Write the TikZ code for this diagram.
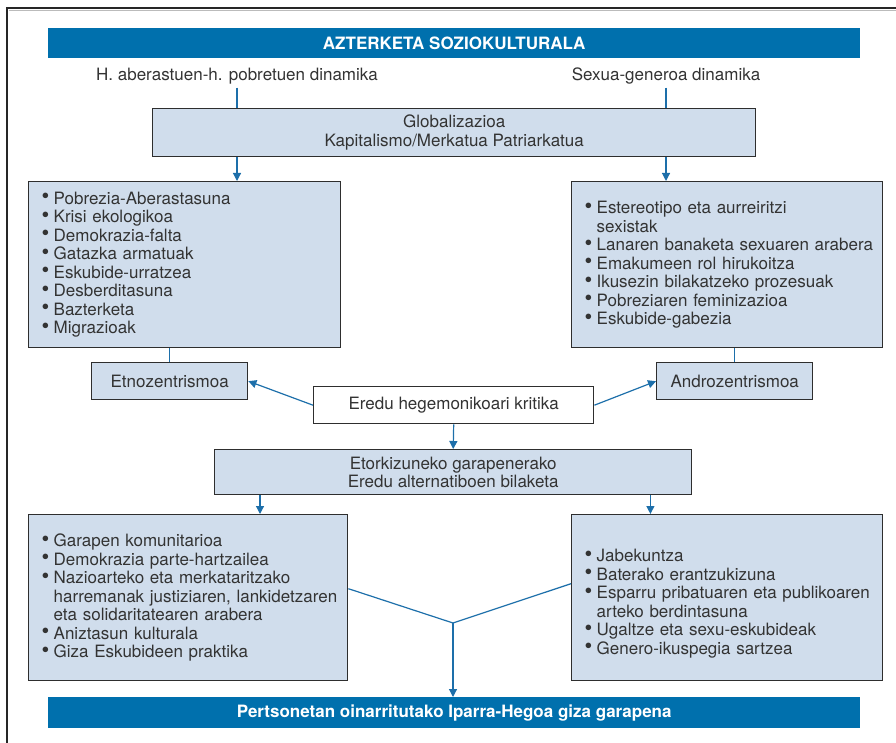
\documentclass[tikz,border=0pt]{standalone}
\usepackage{fontspec}
\setmainfont{TeX Gyre Heros}
\usetikzlibrary{arrows.meta}

\definecolor{bannerblue}{HTML}{0070AD}
\definecolor{boxfill}{HTML}{D0DDEC}
\definecolor{edge}{HTML}{2E2E2E}
\definecolor{linkblue}{HTML}{1D6FAA}
\definecolor{ink}{HTML}{333333}
\definecolor{framegray}{HTML}{BBBBBB}

% bullet line and continuation line of a list
\newcommand{\itm}[1]{\makebox[12pt][l]{\raisebox{0.05ex}{\scalebox{1.3}{\textbullet}}}\mbox{#1}}
\newcommand{\cnt}[1]{\hspace*{12pt}\mbox{#1}}

\begin{document}
\begin{tikzpicture}[x=1pt,y=-1pt,
  every node/.style={font=\fontsize{17}{18.5}\selectfont, text=ink},
  banner/.style={fill=bannerblue, text=white,
    font=\bfseries\fontsize{17}{18.5}\selectfont,
    minimum width=812pt, minimum height=30pt, inner sep=0pt, anchor=north west},
  hbox/.style={draw=edge, line width=1.4pt, fill=boxfill, align=center,
    inner sep=0pt, anchor=north west},
  listbox/.style={draw=edge, line width=1.4pt, fill=boxfill, align=left,
    inner xsep=13pt, inner ysep=0pt, anchor=north west, minimum height=166pt},
  link/.style={draw=linkblue, line width=1.2pt},
  arr/.style={link, -{Triangle[length=8pt,width=8pt]}},
]
\useasboundingbox (0,0) rectangle (896,743);

% outer frame
\draw[framegray, line width=1pt] (9,10.5) -- (896,10.5);
\draw[black!85, line width=1.8pt] (7,743) -- (7,8) -- (896,8);

% banners
\node[banner] (title) at (48,28) {AZTERKETA SOZIOKULTURALA};
\node[banner, minimum height=31pt] (goal) at (48,697)
  {Pertsonetan oinarritutako Iparra-Hegoa giza garapena};

% two dynamics
\node (rich) at (237,76) {H. aberastuen-h. pobretuen dinamika};
\node (sex) at (666,76) {Sexua-generoa dinamika};

\node[hbox, minimum width=603pt, minimum height=48pt] (glob) at (152,108)
  {Globalizazioa\\Kapitalismo/Merkatua Patriarkatua};

% problem lists
\node[listbox, text width=286pt] (ltop) at (28,181)
  {\itm{Pobrezia-Aberastasuna}\\
   \itm{Krisi ekologikoa}\\
   \itm{Demokrazia-falta}\\
   \itm{Gatazka armatuak}\\
   \itm{Eskubide-urratzea}\\
   \itm{Desberditasuna}\\
   \itm{Bazterketa}\\
   \itm{Migrazioak}};
\node[listbox, text width=285pt] (rtop) at (571,181)
  {\itm{Estereotipo eta aurreiritzi}\\
   \cnt{sexistak}\\
   \itm{Lanaren banaketa sexuaren arabera}\\
   \itm{Emakumeen rol hirukoitza}\\
   \itm{Ikusezin bilakatzeko prozesuak}\\
   \itm{Pobreziaren feminizazioa}\\
   \itm{Eskubide-gabezia}};

\node[hbox, minimum width=156pt, minimum height=37pt] (etno) at (91,362) {Etnozentrismoa};
\node[hbox, minimum width=156pt, minimum height=37pt] (andro) at (656,362) {Androzentrismoa};
\node[hbox, fill=white, minimum width=280pt, minimum height=37pt] (crit) at (313,386)
  {Eredu hegemonikoari kritika};

\node[hbox, minimum width=477pt, minimum height=45pt] (etor) at (214,449)
  {Etorkizuneko garapenerako\\Eredu alternatiboen bilaketa};

% alternative lists
\node[listbox, text width=293pt] (lbot) at (28,514)
  {\itm{Garapen komunitarioa}\\
   \itm{Demokrazia parte-hartzailea}\\
   \itm{Nazioarteko eta merkataritzako}\\
   \cnt{harremanak justiziaren, lankidetzaren}\\
   \cnt{eta solidaritatearen arabera}\\
   \itm{Aniztasun kulturala}\\
   \itm{Giza Eskubideen praktika}};
\node[listbox, text width=285pt] (rbot) at (571,514)
  {\rule{0pt}{24pt}\itm{Jabekuntza}\\
   \itm{Baterako erantzukizuna}\\
   \itm{Esparru pribatuaren eta publikoaren}\\
   \cnt{arteko berdintasuna}\\
   \itm{Ugaltze eta sexu-eskubideak}\\
   \itm{Genero-ikuspegia sartzea}};

\coordinate (join) at (453,623);
\path (etor.south west) ++(46,0) coordinate (etorL);
\path (etor.south east) ++(-42,0) coordinate (etorR);

% connectors
\draw[link] (rich.south) -- (rich.south |- glob.north);
\draw[link] (sex.south) -- (sex.south |- glob.north);
\draw[arr] (rich.south |- glob.south) -- (rich.south |- ltop.north);
\draw[arr] (sex.south |- glob.south) -- (sex.south |- rtop.north);
\draw[link] (etno.north |- ltop.south) -- (etno.north);
\draw[link] (andro.north |- rtop.south) -- (andro.north);
\draw[arr] (crit.west) -- (etno.east);
\draw[arr] (crit.east) -- (andro.west);
\draw[arr] (crit.south) -- (etor.north);
\draw[arr] (etorL) -- (etorL |- lbot.north);
\draw[arr] (etorR) -- (etorR |- rbot.north);
\draw[link] ([yshift=9pt]lbot.east) -- (join);
\draw[link] ([yshift=14pt]rbot.west) -- (join);
\draw[arr] (join) -- (join |- goal.north);
\end{tikzpicture}
\end{document}
